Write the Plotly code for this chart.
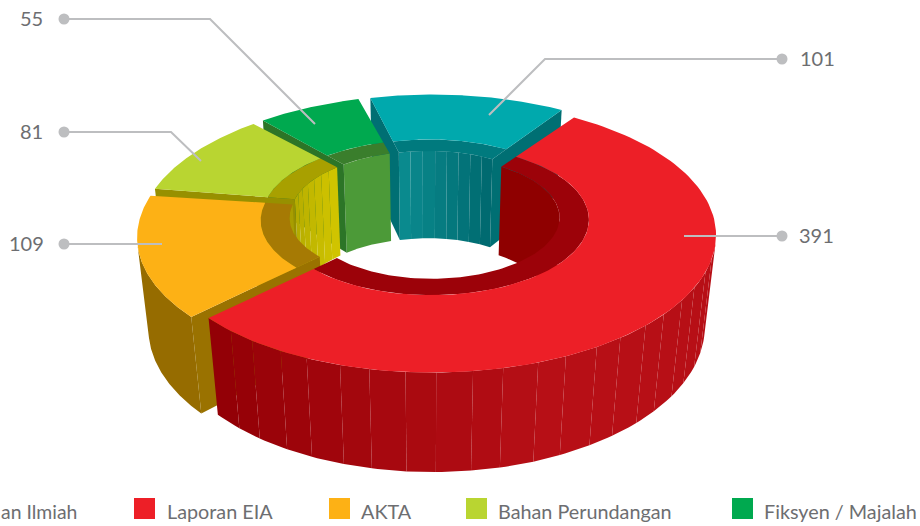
import numpy as np
import plotly.graph_objects as go

categories = ["an Ilmiah", "Laporan EIA", "AKTA", "Bahan Perundangan", "Fiksyen / Majalah"]
values = [101, 391, 109, 81, 55]
top_colors = ["#00A9AD", "#ED1F27", "#FDB115", "#B9D531", "#00A94F"]
ledge_colors = ["#007A7E", "#9C0209", "#A67A04", "#A8A000", "#3A7E2C"]
cut_colors = ["#006F73", "#8F0005", "#9A7200", "#979000", "#2C7527"]
inner_a = ["#0A8A8E", "#8F0000", "#A89E00", "#B5AC00", "#4C9A38"]
inner_b = ["#006A70", "#8F0000", "#A89E00", "#D0C400", "#4C9A38"]
outer_a = ["#006A70", "#B70F16", "#966C00", "#8A8A00", "#2C7527"]
outer_b = ["#006A70", "#930006", "#966C00", "#8A8A00", "#2C7527"]
trim_start = [0.8, 0.8, 0.0, 0.8, 0.8]
trim_end = [0.8, -0.4, 0.8, 0.8, 0.8]

legend_x = [None, 134, 329, 466, 732]
legend_text_x = [79, 165, 359, 496, 762]
label_pos = [(798, 59, "left"), (797, 236, "left"), (46, 244, "right"), (45, 132, "right"), (45, 19, "right")]
leaders = [
    [(782, 59), (545, 59), (489, 115)],
    [(782, 236), (684, 236)],
    [(64, 244), (162, 244)],
    [(64, 132), (171, 132), (201, 161)],
    [(64, 19), (210, 19), (315, 124)],
]

# camera fitted to the picture
H = [273.98553, -65.20222, 424.79759, -5.83824, 95.91803, 210.46089, -0.00438, -0.16755]
SHIFT, R_TOP, R_LEDGE, START = 0.036, 0.55956, 0.45560, -13.29073
DEPTH, VX, VY = 91.0, 428.0, 2600.0
STEP = 6.0

fig = go.Figure()


def mix(a, b, t):
    ca = [int(a[i:i + 2], 16) for i in (1, 3, 5)]
    cb = [int(b[i:i + 2], 16) for i in (1, 3, 5)]
    return "rgb(%d,%d,%d)" % tuple(round(x + (y - x) * t) for x, y in zip(ca, cb))


def project(mid, theta, radius, drop=False):
    theta = np.radians(theta)
    mid = np.radians(mid)
    u = SHIFT * np.sin(mid) + radius * np.sin(theta)
    v = -SHIFT * np.cos(mid) - radius * np.cos(theta)
    w = 1 + H[6] * u + H[7] * v
    x = (H[0] * u + H[1] * v + H[2]) / w
    y = (H[3] * u + H[4] * v + H[5]) / w
    if drop:
        dy = DEPTH / (1 + 0.5 * H[7] * v)
        x = x + (VX - x) * dy / (VY - y)
        y = y + dy
    return x, y


def poly(xs, ys, color):
    fig.add_trace(go.Scatter(x=list(xs), y=list(ys), mode="lines", fill="toself", fillcolor=color,
                             line=dict(width=0, color=color), hoverinfo="skip", showlegend=False))


def shoelace(x, y):
    return sum(x[i] * y[(i + 1) % 4] - x[(i + 1) % 4] * y[i] for i in range(4))


def wall(mid, a0, a1, radius, facing, col_a, col_b, ramp):
    """Draw the part of a curved wall that faces the viewer."""
    fine = np.linspace(a0, a1, 181)
    tx, ty = project(mid, fine, radius)
    bx, by = project(mid, fine, radius, True)
    keep = [k for k in range(180)
            if shoelace([tx[k], tx[k + 1], bx[k + 1], bx[k]], [ty[k], ty[k + 1], by[k + 1], by[k]]) * facing > 0]
    if not keep:
        return
    lo, hi = keep[0], keep[-1] + 1
    if col_a == col_b:
        poly(np.r_[tx[lo:hi + 1], bx[lo:hi + 1][::-1]], np.r_[ty[lo:hi + 1], by[lo:hi + 1][::-1]], col_a)
        return
    n = max(1, int(np.ceil((fine[hi] - fine[lo]) / STEP)))
    cuts = np.linspace(lo, hi, n + 1).round().astype(int)
    for k in range(n):
        s, e = cuts[k], cuts[k + 1]
        poly(np.r_[tx[s:e + 1], bx[s:e + 1][::-1]], np.r_[ty[s:e + 1], by[s:e + 1][::-1]],
             mix(col_a, col_b, ramp(k / max(n - 1, 1))))


edges = START + np.cumsum([0] + values) / sum(values) * 360

for i in [0, 4, 3, 2, 1]:
    a0, a1 = edges[i] + trim_start[i], edges[i + 1] - trim_end[i]
    mid = (edges[i] + edges[i + 1]) / 2
    fine = np.linspace(a0, a1, 120)

    wall(mid, a0, a1, R_LEDGE, 1, inner_a[i], inner_b[i], lambda t: t)
    wall(mid, a0, a1, 1, -1, outer_a[i], outer_b[i], lambda t: min(1, max(0, (t - 0.45) / 0.55)))

    # cut faces
    for t, sign in ((a0, 1), (a1, -1)):
        p = [project(mid, t, 1), project(mid, t, R_LEDGE), project(mid, t, R_LEDGE, True), project(mid, t, 1, True)]
        xs, ys = zip(*p)
        if shoelace(xs, ys) * sign > 0:
            poly(xs, ys, cut_colors[i])

    # ledge and top
    ox, oy = project(mid, fine, R_TOP)
    lx, ly = project(mid, fine, R_LEDGE)
    poly(np.r_[ox, lx[::-1]], np.r_[oy, ly[::-1]], ledge_colors[i])
    ox2, oy2 = project(mid, fine, 1)
    poly(np.r_[ox2, ox[::-1]], np.r_[oy2, oy[::-1]], top_colors[i])

# leaders and labels
for line, val, (lx_, ly_, side) in zip(leaders, values, label_pos):
    xs, ys = zip(*line)
    fig.add_trace(go.Scatter(x=xs, y=ys, mode="lines", line=dict(color="#BDBEC0", width=2),
                             hoverinfo="skip", showlegend=False))
    fig.add_trace(go.Scatter(x=[xs[0]], y=[ys[0]], mode="markers", marker=dict(color="#BDBEC0", size=11),
                             hoverinfo="skip", showlegend=False))
    fig.add_annotation(x=lx_, y=ly_ - 1, text=str(val), showarrow=False, xanchor=side, yanchor="middle",
                       font=dict(family="Lato", size=20, color="#6D6E71"))

# legend
for name, sx, tx, col in zip(categories, legend_x, legend_text_x, top_colors):
    if sx is not None:
        fig.add_trace(go.Scatter(x=[sx + 10.5], y=[508.5], mode="markers",
                                 marker=dict(symbol="square", size=21, color=col, line=dict(width=0)),
                                 hoverinfo="skip", showlegend=False))
    fig.add_annotation(x=tx, y=511, text=name, showarrow=False, xanchor="left" if sx is not None else "right",
                       yanchor="middle", font=dict(family="Lato", size=19.8 if sx is not None else 19.4, color="#6D6E71"))

fig.update_layout(width=920, height=526, margin=dict(l=0, r=0, t=0, b=0),
                  paper_bgcolor="white", plot_bgcolor="white", showlegend=False)
fig.update_xaxes(range=[0, 920], visible=False, fixedrange=True)
fig.update_yaxes(range=[526, 0], visible=False, fixedrange=True)
fig.write_html("out.html", post_script="document.body.style.margin='0';document.body.style.overflow='hidden';",
               config={"displayModeBar": False})
